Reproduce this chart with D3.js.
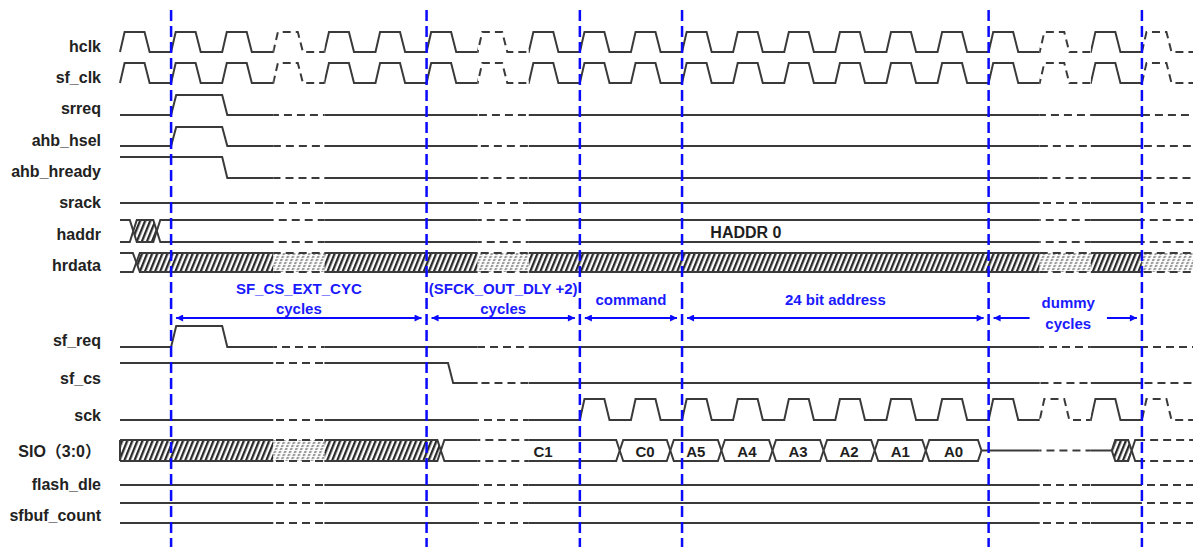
<!DOCTYPE html>
<html>
<head>
<meta charset="utf-8">
<script src="https://cdn.jsdelivr.net/npm/d3@7"></script>
<style>
  body { margin: 0; background: #fff; }
  svg { display: block; }
</style>
</head>
<body>
<svg id="chart" width="1197" height="547"></svg>
<script>
// ---------- timing data (time axis in sf_clk cycles) ----------
const timeRange = [-1, 20];
const brokenCycles = [2, 6, 17, 19];          // cycles drawn with broken lines
const signalNames = ["hclk", "sf_clk", "srreq", "ahb_hsel", "ahb_hready", "srack", "haddr",
                     "hrdata", "sf_req", "sf_cs", "sck", "SIO（3:0）", "flash_dle", "sfbuf_count"];

// clocks: [first cycle, last cycle]
const hclkRun = [-1, 20];
const sfClkRun = [-1, 20];
const sckRun = [8, 20];

// single-bit signals: [cycle of change, new level]
const srreqLevels = [[-1, 0], [0, 1], [1, 0]];
const ahbHselLevels = [[-1, 0], [0, 1], [1, 0]];
const ahbHreadyLevels = [[-1, 1], [1, 0]];
const srackLevels = [[-1, 0]];
const sfReqLevels = [[-1, 0], [0, 1], [1, 0]];
const sfCsLevels = [[-1, 1], [5.42, 0]];
const flashDleLevels = [[-1, 0]];

// buses: valid / unknown / high-impedance segments
const haddrBus = [
  { from: -1, to: -0.74, kind: "valid" },
  { from: -0.74, to: -0.28, kind: "unknown" },
  { from: -0.28, to: 20, kind: "valid", text: "HADDR 0", textAt: 11.25 }
];
const hrdataBus = [
  { from: -1, to: -0.68, kind: "valid" },
  { from: -0.68, to: 20, kind: "unknown" }
];
const sioBus = [
  { from: -1, to: 5.28, kind: "unknown" },
  { from: 5.28, to: 8.78, kind: "valid", text: "C1", textAt: 7.28 },
  { from: 8.78, to: 9.77, kind: "valid", text: "C0" },
  { from: 9.77, to: 10.77, kind: "valid", text: "A5" },
  { from: 10.77, to: 11.77, kind: "valid", text: "A4" },
  { from: 11.77, to: 12.77, kind: "valid", text: "A3" },
  { from: 12.77, to: 13.77, kind: "valid", text: "A2" },
  { from: 13.77, to: 14.77, kind: "valid", text: "A1" },
  { from: 14.77, to: 15.86, kind: "valid", text: "A0" },
  { from: 15.86, to: 18.41, kind: "z" },
  { from: 18.41, to: 18.8, kind: "unknown" },
  { from: 18.8, to: 20, kind: "valid" }
];
const sfbufBus = [{ from: -1, to: 20, kind: "valid" }];

// phase markers and the spans between them
const markerCycles = [0, 5, 8, 10, 16, 19];
const phaseSpans = [[0, 5], [5, 8], [8, 10], [10, 16], [16, 19]];
const phaseLabels = [["SF_CS_EXT_CYC", "cycles"], ["(SFCK_OUT_DLY +2)", "cycles"],
                     ["command"], ["24 bit address"], ["dummy", "cycles"]];

// ---------- drawing ----------
const W = 1197, H = 547;
const ink = "#3a3a3a", blue = "#0a0aff", textBlue = "#1a1aff";
const font = "'Liberation Sans', Arial, 'Noto Sans CJK SC', sans-serif";

const waves = {
  "hclk": { type: "clock", run: hclkRun },
  "sf_clk": { type: "clock", run: sfClkRun },
  "srreq": { type: "level", levels: srreqLevels },
  "ahb_hsel": { type: "level", levels: ahbHselLevels },
  "ahb_hready": { type: "level", levels: ahbHreadyLevels },
  "srack": { type: "level", levels: srackLevels },
  "haddr": { type: "bus", segs: haddrBus },
  "hrdata": { type: "bus", segs: hrdataBus },
  "sf_req": { type: "level", levels: sfReqLevels },
  "sf_cs": { type: "level", levels: sfCsLevels },
  "sck": { type: "clock", run: sckRun },
  "SIO（3:0）": { type: "bus", segs: sioBus },
  "flash_dle": { type: "level", levels: flashDleLevels },
  "sfbuf_count": { type: "bus", segs: sfbufBus }
};

// vertical placement of each row: high level, low level, label baseline
const rowLayout = {
  "hclk":        { hi: 32,  lo: 52,  base: 52 },
  "sf_clk":      { hi: 63,  lo: 83,  base: 83 },
  "srreq":       { hi: 95,  lo: 115, base: 114 },
  "ahb_hsel":    { hi: 127, lo: 146, base: 146 },
  "ahb_hready":  { hi: 157, lo: 178, base: 177 },
  "srack":       { hi: 183, lo: 203, base: 208 },
  "haddr":       { hi: 220, lo: 242, base: 240 },
  "hrdata":      { hi: 253, lo: 272, base: 271 },
  "sf_req":      { hi: 326, lo: 347, base: 346 },
  "sf_cs":       { hi: 363, lo: 383, base: 384 },
  "sck":         { hi: 399, lo: 420, base: 421 },
  "SIO（3:0）":  { hi: 440, lo: 461, base: 457 },
  "flash_dle":   { hi: 465, lo: 485, base: 490 },
  "sfbuf_count": { hi: 503, lo: 523, base: 521 }
};

const svg = d3.select("#chart");
const x = d3.scaleLinear().domain(timeRange).range([120, 1193]);
const defs = svg.append("defs");

// hatch for unknown bus values
function stripes(id, color) {
  const p = defs.append("pattern").attr("id", id)
    .attr("patternUnits", "userSpaceOnUse")
    .attr("width", 4.7).attr("height", 8)
    .attr("patternTransform", "rotate(22)");
  p.append("rect").attr("width", 4.7).attr("height", 8).attr("fill", "#fff");
  p.append("rect").attr("width", 2.3).attr("height", 8).attr("fill", color);
}
stripes("hatch", "#2a2a2a");
stripes("hatchLight", "#9a9a9a");
const sp = defs.append("pattern").attr("id", "speckle")
  .attr("patternUnits", "userSpaceOnUse").attr("width", 6).attr("height", 3);
sp.append("rect").attr("y", 0).attr("width", 6).attr("height", 1).attr("fill", "#fff").attr("opacity", 0.85);

// solid / broken time windows
const dashed = brokenCycles.map(k => [k, Math.min(k + 1, timeRange[1])]);
const solid = [];
let cur = timeRange[0] - 2;
dashed.forEach(([a, b]) => { solid.push([cur, a]); cur = b; });
if (cur < timeRange[1]) solid.push([cur, timeRange[1] + 2]);
function clip(id, spans) {
  const c = defs.append("clipPath").attr("id", id);
  spans.forEach(([a, b]) => {
    const xa = x(a), xb = b >= timeRange[1] ? W : x(b);
    c.append("rect").attr("x", xa).attr("y", 0).attr("width", xb - xa).attr("height", H);
  });
}
clip("clipSolid", solid);
clip("clipDash", dashed);

const gFill = svg.append("g");
const gSolid = svg.append("g").attr("clip-path", "url(#clipSolid)")
  .attr("fill", "none").attr("stroke", ink).attr("stroke-width", 2);
const gDash = svg.append("g").attr("clip-path", "url(#clipDash)")
  .attr("fill", "none").attr("stroke", ink).attr("stroke-width", 2)
  .attr("stroke-dasharray", "8,5");
const gText = svg.append("g").attr("font-family", font);

function drawLine(d) {
  gSolid.append("path").attr("d", d);
  gDash.append("path").attr("d", d);
}

function clockPoints(run) {
  const pts = [[timeRange[0], 0], [run[0], 0]];
  for (let k = run[0]; k < run[1]; k++) {
    pts.push([k, 0], [k + 0.09, 1], [k + 0.48, 1], [k + 0.58, 0], [k + 1, 0]);
  }
  return pts;
}
function levelPoints(levels) {
  const pts = [[timeRange[0], levels[0][1]]];
  for (let i = 1; i < levels.length; i++) {
    const [t, v] = levels[i];
    pts.push([t, levels[i - 1][1]], [t + 0.1, v]);
  }
  pts.push([timeRange[1], levels[levels.length - 1][1]]);
  return pts;
}

const tw = 3.5; // half width of a bus transition
function drawBus(segs, row) {
  const mid = (row.hi + row.lo) / 2;
  segs.forEach(s => {
    const xa = x(s.from), xb = x(s.to);
    const openL = s.from <= timeRange[0], openR = s.to >= timeRange[1];
    if (s.kind === "z") {
      drawLine(d3.line()([[xa, mid], [xb, mid]]));
      return;
    }
    const top = [], bot = [];
    if (openL) { top.push([xa, row.hi]); bot.push([xa, row.lo]); }
    else { top.push([xa, mid], [xa + tw, row.hi]); bot.push([xa, mid], [xa + tw, row.lo]); }
    if (openR) { top.push([xb, row.hi]); bot.push([xb, row.lo]); }
    else { top.push([xb - tw, row.hi], [xb, mid]); bot.push([xb - tw, row.lo], [xb, mid]); }
    if (s.kind === "unknown") {
      const poly = top.concat(bot.slice().reverse());
      const d = d3.line()(poly) + "Z";
      gFill.append("path").attr("d", d).attr("fill", "url(#hatch)").attr("clip-path", "url(#clipSolid)");
      gFill.append("path").attr("d", d).attr("fill", "url(#hatchLight)").attr("clip-path", "url(#clipDash)");
      gFill.append("path").attr("d", d).attr("fill", "url(#speckle)").attr("clip-path", "url(#clipDash)");
      if (openL) drawLine(d3.line()([[xa, row.hi], [xa, row.lo]]));
    }
    drawLine(d3.line()(top));
    drawLine(d3.line()(bot));
    if (s.text) {
      const at = s.textAt !== undefined ? s.textAt : (s.from + s.to) / 2;
      gText.append("text").attr("x", x(at)).attr("y", mid + 1)
        .attr("text-anchor", "middle").attr("dominant-baseline", "central")
        .attr("font-size", s.text.length > 3 ? 16 : 15).attr("font-weight", "bold")
        .attr("fill", "#1e1e1e").text(s.text);
    }
  });
}

signalNames.forEach(name => {
  const row = rowLayout[name], w = waves[name];
  const yOf = v => (v ? row.hi : row.lo);
  const line = d3.line().x(d => x(d[0])).y(d => yOf(d[1]));
  if (w.type === "clock") drawLine(line(clockPoints(w.run)));
  else if (w.type === "level") drawLine(line(levelPoints(w.levels)));
  else drawBus(w.segs, row);

  gText.append("text").attr("x", 101).attr("y", row.base)
    .attr("text-anchor", "end").attr("font-size", 16).attr("font-weight", "bold")
    .attr("fill", "#222").text(name);
});

// phase markers
svg.append("g").selectAll("line").data(markerCycles).join("line")
  .attr("x1", d => x(d)).attr("x2", d => x(d))
  .attr("y1", 10).attr("y2", H)
  .attr("stroke", blue).attr("stroke-width", 2.5).attr("stroke-dasharray", "11,5");

// phase span annotations
defs.append("marker").attr("id", "arrowHead")
  .attr("viewBox", "0 0 10 10").attr("refX", 10).attr("refY", 5)
  .attr("markerWidth", 9).attr("markerHeight", 7).attr("markerUnits", "userSpaceOnUse")
  .attr("orient", "auto-start-reverse")
  .append("path").attr("d", "M0,0 L10,5 L0,10 Z").attr("fill", blue);

const arrowY = 318, gap = 5;
const gAnn = svg.append("g").attr("font-family", font);
phaseSpans.forEach(([a, b], i) => {
  const lines = phaseLabels[i];
  const xa = x(a) + gap, xb = x(b) - gap, xm = (x(a) + x(b)) / 2;
  const inline = (xb - xa) < 170 && lines.length > 1 && i === phaseSpans.length - 1;
  const ys = inline ? [302, 323] : (lines.length > 1 ? [288, 308] : [299]);
  let maxW = 0;
  lines.forEach((t, j) => {
    const el = gAnn.append("text").attr("x", xm + (inline ? 3 : 0)).attr("y", ys[j])
      .attr("text-anchor", "middle").attr("dominant-baseline", "central")
      .attr("font-size", 15).attr("font-weight", "bold").attr("fill", textBlue).text(t);
    maxW = Math.max(maxW, el.node().getComputedTextLength());
  });
  const arrow = (x1, x2) => gAnn.append("line").attr("x1", x1).attr("x2", x2)
    .attr("y1", arrowY).attr("y2", arrowY).attr("stroke", blue).attr("stroke-width", 2);
  if (inline) {
    const half = maxW / 2 + 12;
    arrow(xa, xm + 3 - half).attr("marker-start", "url(#arrowHead)");
    arrow(xm + 3 + half, xb).attr("marker-end", "url(#arrowHead)");
  } else {
    arrow(xa, xb).attr("marker-start", "url(#arrowHead)").attr("marker-end", "url(#arrowHead)");
  }
});
</script>
</body>
</html>
